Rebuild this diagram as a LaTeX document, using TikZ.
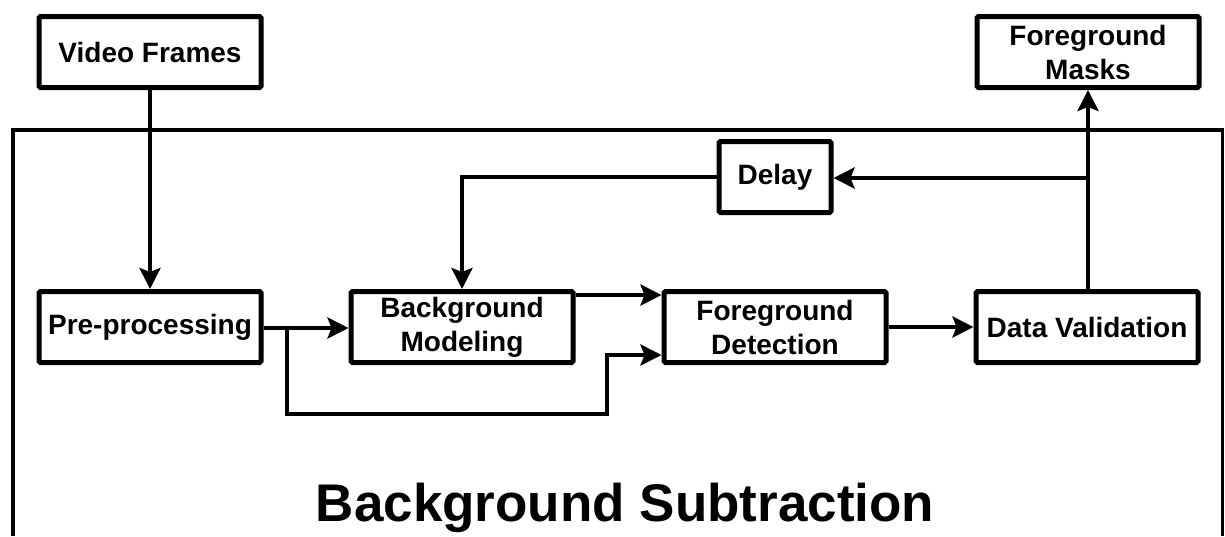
\documentclass[tikz,border=0pt]{standalone}
\usepackage{fontspec}
\setmainfont{Liberation Sans}
\usetikzlibrary{arrows.meta}
\begin{document}
\begin{tikzpicture}[x=1pt,y=-1pt,
  blk/.style={draw,line width=5pt,rounded corners=1.5pt,minimum width=222pt,minimum height=71pt,
    inner sep=0pt,align=center,font=\fontsize{28}{34}\selectfont\bfseries},
  conn/.style={line width=4pt,-{Stealth[length=21pt,width=21pt,inset=4pt]}},
  plain/.style={line width=4pt}]
\useasboundingbox (0,0) rectangle (1225,536);
% outer frame
\draw[line width=4pt] (13,536) -- (13,130) -- (1224,130);
\draw[line width=3pt] (1222,130) -- (1222,536);
% boxes
\node[blk] (vf) at (150,52) {Video Frames};
\node[blk] (fm) at (1088,52) {Foreground\\Masks};
\node[blk,minimum width=112pt] (dl) at (775,177) {Delay};
\node[blk] (pp) at (150,327) {Pre-processing};
\node[blk] (bm) at (462,327) {Background\\Modeling};
\node[blk] (fd) at (775,327) {Foreground\\Detection};
\node[blk] (dv) at (1087,327) {Data Validation};
% title
\node[anchor=base,font=\fontsize{53}{60}\selectfont\bfseries] (title) at (625,521) {Background Subtraction};
% coordinates
\coordinate (br) at (287,328);
\coordinate (up) at (1088,178);
% connectors
\draw[conn] (vf.south) -- (pp.north);
\draw[conn] (pp.east |- br) -- (bm.west |- br);
\draw[conn] (br) -- (287,414) -- (607,414) -- (607,355) -- (fd.west |- 0,355);
\draw[conn] (bm.east |- 0,295) -- (fd.west |- 0,295);
\draw[conn] (fd.east) -- (dv.west);
\draw[conn] (dv.north -| up) -- (fm.south -| up);
\draw[conn] (up) -- (dl.east |- up);
\draw[conn] (dl.west) -- (462,177) -- (bm.north);
\end{tikzpicture}
\end{document}
